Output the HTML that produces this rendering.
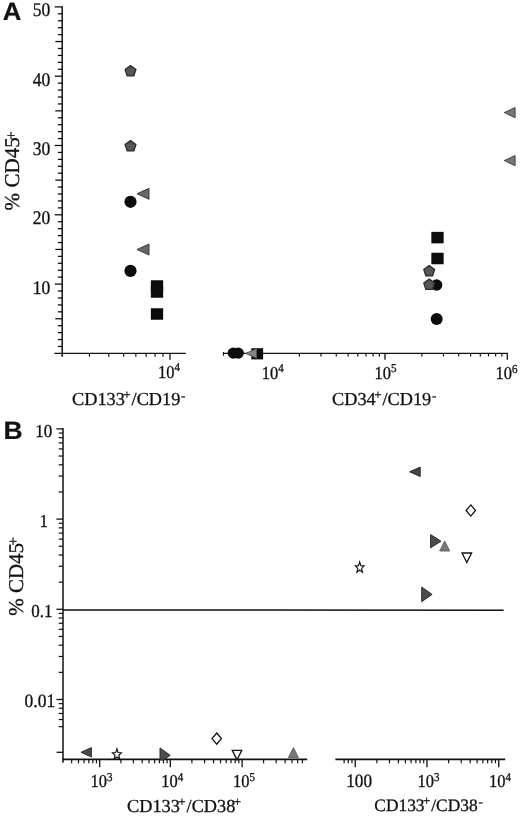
<!DOCTYPE html>
<html lang="en"><head><meta charset="utf-8"><title>Figure</title>
<style>
html,body{margin:0;padding:0;background:#fff}
body{width:520px;height:817px;overflow:hidden}
svg{display:block;will-change:transform;filter:grayscale(1)}
text{white-space:pre;text-rendering:geometricPrecision}
</style></head><body>
<svg width="520" height="817" viewBox="0 0 520 817">
<rect width="520" height="817" fill="#fff"/>
<line x1="62.20" y1="6.20" x2="62.20" y2="356.80" stroke="#111" stroke-width="1.5"/>
<line x1="57.90" y1="346.47" x2="62.20" y2="346.47" stroke="#111" stroke-width="1.3"/>
<line x1="57.90" y1="339.54" x2="62.20" y2="339.54" stroke="#111" stroke-width="1.3"/>
<line x1="57.90" y1="332.61" x2="62.20" y2="332.61" stroke="#111" stroke-width="1.3"/>
<line x1="57.90" y1="325.68" x2="62.20" y2="325.68" stroke="#111" stroke-width="1.3"/>
<line x1="55.30" y1="318.75" x2="62.20" y2="318.75" stroke="#111" stroke-width="1.3"/>
<line x1="57.90" y1="311.82" x2="62.20" y2="311.82" stroke="#111" stroke-width="1.3"/>
<line x1="57.90" y1="304.89" x2="62.20" y2="304.89" stroke="#111" stroke-width="1.3"/>
<line x1="57.90" y1="297.96" x2="62.20" y2="297.96" stroke="#111" stroke-width="1.3"/>
<line x1="57.90" y1="291.03" x2="62.20" y2="291.03" stroke="#111" stroke-width="1.3"/>
<line x1="54.70" y1="284.10" x2="62.20" y2="284.10" stroke="#111" stroke-width="1.3"/>
<line x1="57.90" y1="277.17" x2="62.20" y2="277.17" stroke="#111" stroke-width="1.3"/>
<line x1="57.90" y1="270.24" x2="62.20" y2="270.24" stroke="#111" stroke-width="1.3"/>
<line x1="57.90" y1="263.31" x2="62.20" y2="263.31" stroke="#111" stroke-width="1.3"/>
<line x1="57.90" y1="256.38" x2="62.20" y2="256.38" stroke="#111" stroke-width="1.3"/>
<line x1="55.30" y1="249.45" x2="62.20" y2="249.45" stroke="#111" stroke-width="1.3"/>
<line x1="57.90" y1="242.52" x2="62.20" y2="242.52" stroke="#111" stroke-width="1.3"/>
<line x1="57.90" y1="235.59" x2="62.20" y2="235.59" stroke="#111" stroke-width="1.3"/>
<line x1="57.90" y1="228.66" x2="62.20" y2="228.66" stroke="#111" stroke-width="1.3"/>
<line x1="57.90" y1="221.73" x2="62.20" y2="221.73" stroke="#111" stroke-width="1.3"/>
<line x1="54.70" y1="214.80" x2="62.20" y2="214.80" stroke="#111" stroke-width="1.3"/>
<line x1="57.90" y1="207.87" x2="62.20" y2="207.87" stroke="#111" stroke-width="1.3"/>
<line x1="57.90" y1="200.94" x2="62.20" y2="200.94" stroke="#111" stroke-width="1.3"/>
<line x1="57.90" y1="194.01" x2="62.20" y2="194.01" stroke="#111" stroke-width="1.3"/>
<line x1="57.90" y1="187.08" x2="62.20" y2="187.08" stroke="#111" stroke-width="1.3"/>
<line x1="55.30" y1="180.15" x2="62.20" y2="180.15" stroke="#111" stroke-width="1.3"/>
<line x1="57.90" y1="173.22" x2="62.20" y2="173.22" stroke="#111" stroke-width="1.3"/>
<line x1="57.90" y1="166.29" x2="62.20" y2="166.29" stroke="#111" stroke-width="1.3"/>
<line x1="57.90" y1="159.36" x2="62.20" y2="159.36" stroke="#111" stroke-width="1.3"/>
<line x1="57.90" y1="152.43" x2="62.20" y2="152.43" stroke="#111" stroke-width="1.3"/>
<line x1="54.70" y1="145.50" x2="62.20" y2="145.50" stroke="#111" stroke-width="1.3"/>
<line x1="57.90" y1="138.57" x2="62.20" y2="138.57" stroke="#111" stroke-width="1.3"/>
<line x1="57.90" y1="131.64" x2="62.20" y2="131.64" stroke="#111" stroke-width="1.3"/>
<line x1="57.90" y1="124.71" x2="62.20" y2="124.71" stroke="#111" stroke-width="1.3"/>
<line x1="57.90" y1="117.78" x2="62.20" y2="117.78" stroke="#111" stroke-width="1.3"/>
<line x1="55.30" y1="110.85" x2="62.20" y2="110.85" stroke="#111" stroke-width="1.3"/>
<line x1="57.90" y1="103.92" x2="62.20" y2="103.92" stroke="#111" stroke-width="1.3"/>
<line x1="57.90" y1="96.99" x2="62.20" y2="96.99" stroke="#111" stroke-width="1.3"/>
<line x1="57.90" y1="90.06" x2="62.20" y2="90.06" stroke="#111" stroke-width="1.3"/>
<line x1="57.90" y1="83.13" x2="62.20" y2="83.13" stroke="#111" stroke-width="1.3"/>
<line x1="54.70" y1="76.20" x2="62.20" y2="76.20" stroke="#111" stroke-width="1.3"/>
<line x1="57.90" y1="69.27" x2="62.20" y2="69.27" stroke="#111" stroke-width="1.3"/>
<line x1="57.90" y1="62.34" x2="62.20" y2="62.34" stroke="#111" stroke-width="1.3"/>
<line x1="57.90" y1="55.41" x2="62.20" y2="55.41" stroke="#111" stroke-width="1.3"/>
<line x1="57.90" y1="48.48" x2="62.20" y2="48.48" stroke="#111" stroke-width="1.3"/>
<line x1="55.30" y1="41.55" x2="62.20" y2="41.55" stroke="#111" stroke-width="1.3"/>
<line x1="57.90" y1="34.62" x2="62.20" y2="34.62" stroke="#111" stroke-width="1.3"/>
<line x1="57.90" y1="27.69" x2="62.20" y2="27.69" stroke="#111" stroke-width="1.3"/>
<line x1="57.90" y1="20.76" x2="62.20" y2="20.76" stroke="#111" stroke-width="1.3"/>
<line x1="57.90" y1="13.83" x2="62.20" y2="13.83" stroke="#111" stroke-width="1.3"/>
<line x1="54.70" y1="6.90" x2="62.20" y2="6.90" stroke="#111" stroke-width="1.3"/>
<line x1="54.40" y1="353.30" x2="185.80" y2="353.30" stroke="#111" stroke-width="1.3"/>
<line x1="89.48" y1="353.30" x2="89.48" y2="356.70" stroke="#111" stroke-width="1.2"/>
<line x1="108.72" y1="353.30" x2="108.72" y2="356.70" stroke="#111" stroke-width="1.2"/>
<line x1="123.64" y1="353.30" x2="123.64" y2="356.70" stroke="#111" stroke-width="1.2"/>
<line x1="135.84" y1="353.30" x2="135.84" y2="356.70" stroke="#111" stroke-width="1.2"/>
<line x1="146.15" y1="353.30" x2="146.15" y2="356.70" stroke="#111" stroke-width="1.2"/>
<line x1="155.08" y1="353.30" x2="155.08" y2="356.70" stroke="#111" stroke-width="1.2"/>
<line x1="162.95" y1="353.30" x2="162.95" y2="356.70" stroke="#111" stroke-width="1.2"/>
<line x1="170.00" y1="353.30" x2="170.00" y2="359.70" stroke="#111" stroke-width="1.3"/>
<line x1="223.00" y1="353.30" x2="507.90" y2="353.30" stroke="#111" stroke-width="1.3"/>
<line x1="223.40" y1="352.00" x2="223.40" y2="355.80" stroke="#111" stroke-width="1.1"/>
<line x1="299.38" y1="353.30" x2="299.38" y2="356.40" stroke="#111" stroke-width="1.2"/>
<line x1="320.95" y1="353.30" x2="320.95" y2="356.40" stroke="#111" stroke-width="1.2"/>
<line x1="336.25" y1="353.30" x2="336.25" y2="356.40" stroke="#111" stroke-width="1.2"/>
<line x1="348.12" y1="353.30" x2="348.12" y2="356.40" stroke="#111" stroke-width="1.2"/>
<line x1="357.82" y1="353.30" x2="357.82" y2="356.40" stroke="#111" stroke-width="1.2"/>
<line x1="366.02" y1="353.30" x2="366.02" y2="356.40" stroke="#111" stroke-width="1.2"/>
<line x1="373.13" y1="353.30" x2="373.13" y2="356.40" stroke="#111" stroke-width="1.2"/>
<line x1="379.39" y1="353.30" x2="379.39" y2="356.40" stroke="#111" stroke-width="1.2"/>
<line x1="421.88" y1="353.30" x2="421.88" y2="356.40" stroke="#111" stroke-width="1.2"/>
<line x1="443.45" y1="353.30" x2="443.45" y2="356.40" stroke="#111" stroke-width="1.2"/>
<line x1="458.75" y1="353.30" x2="458.75" y2="356.40" stroke="#111" stroke-width="1.2"/>
<line x1="470.62" y1="353.30" x2="470.62" y2="356.40" stroke="#111" stroke-width="1.2"/>
<line x1="480.32" y1="353.30" x2="480.32" y2="356.40" stroke="#111" stroke-width="1.2"/>
<line x1="488.52" y1="353.30" x2="488.52" y2="356.40" stroke="#111" stroke-width="1.2"/>
<line x1="495.63" y1="353.30" x2="495.63" y2="356.40" stroke="#111" stroke-width="1.2"/>
<line x1="501.89" y1="353.30" x2="501.89" y2="356.40" stroke="#111" stroke-width="1.2"/>
<line x1="385.00" y1="353.30" x2="385.00" y2="359.70" stroke="#111" stroke-width="1.3"/>
<line x1="507.30" y1="353.30" x2="507.30" y2="359.70" stroke="#111" stroke-width="1.3"/>
<text transform="translate(50.20,16.20) scale(1,1.1)" font-family='"Liberation Serif", serif' font-size="17.5" font-weight="normal" text-anchor="end" fill="#111" stroke="#111" stroke-width="0.3">50</text>
<text transform="translate(50.20,85.50) scale(1,1.1)" font-family='"Liberation Serif", serif' font-size="17.5" font-weight="normal" text-anchor="end" fill="#111" stroke="#111" stroke-width="0.3">40</text>
<text transform="translate(50.20,155.00) scale(1,1.1)" font-family='"Liberation Serif", serif' font-size="17.5" font-weight="normal" text-anchor="end" fill="#111" stroke="#111" stroke-width="0.3">30</text>
<text transform="translate(50.20,224.30) scale(1,1.1)" font-family='"Liberation Serif", serif' font-size="17.5" font-weight="normal" text-anchor="end" fill="#111" stroke="#111" stroke-width="0.3">20</text>
<text transform="translate(50.20,293.70) scale(1,1.1)" font-family='"Liberation Serif", serif' font-size="17.5" font-weight="normal" text-anchor="end" fill="#111" stroke="#111" stroke-width="0.3">10</text>
<text transform="translate(158.00,378.00) scale(1,1.1)" font-family='"Liberation Serif", serif' font-size="16.5" font-weight="normal" text-anchor="start" fill="#111" stroke="#111" stroke-width="0.3">10<tspan font-size="11" dy="-6.0" dx="0">4</tspan></text>
<text transform="translate(261.80,379.00) scale(1,1.1)" font-family='"Liberation Serif", serif' font-size="16.5" font-weight="normal" text-anchor="start" fill="#111" stroke="#111" stroke-width="0.3">10<tspan font-size="11" dy="-6.0" dx="0">4</tspan></text>
<text transform="translate(374.40,378.80) scale(1,1.1)" font-family='"Liberation Serif", serif' font-size="16.5" font-weight="normal" text-anchor="start" fill="#111" stroke="#111" stroke-width="0.3">10<tspan font-size="11" dy="-6.0" dx="0">5</tspan></text>
<text transform="translate(495.60,379.10) scale(1,1.1)" font-family='"Liberation Serif", serif' font-size="16.5" font-weight="normal" text-anchor="start" fill="#111" stroke="#111" stroke-width="0.3">10<tspan font-size="11" dy="-6.0" dx="0">6</tspan></text>
<text transform="translate(72.00,404.60) scale(1,1.0)" font-family='"Liberation Serif", serif' font-size="18.3" font-weight="normal" text-anchor="start" fill="#111" stroke="#111" stroke-width="0.3">CD133<tspan font-size="13" dy="-6" dx="-1.5">+</tspan><tspan dy="6" dx="0.9">/CD19</tspan><tspan font-size="13" dy="-5" dx="0.7">-</tspan></text>
<text transform="translate(332.00,404.90) scale(1,1.0)" font-family='"Liberation Serif", serif' font-size="18.3" font-weight="normal" text-anchor="start" fill="#111" stroke="#111" stroke-width="0.3">CD34<tspan font-size="13" dy="-6" dx="-1.5">+</tspan><tspan dy="6" dx="0.9">/CD19</tspan><tspan font-size="13" dy="-5" dx="0.7">-</tspan></text>
<text transform="translate(19.2,210.4) rotate(-90)" font-family='"Liberation Serif", serif' font-size="21.1" fill="#111" stroke="#111" stroke-width="0.3">% CD45<tspan font-size="15" dy="-3.0" dx="-2.7">+</tspan></text>
<text transform="translate(2.70,20.30) scale(1.03,1.0)" font-family='"Liberation Sans", sans-serif' font-size="25" font-weight="bold" text-anchor="start" fill="#111" stroke="#111" stroke-width="0.2">A</text>
<polygon points="130.50,65.60 135.92,69.54 133.85,75.91 127.15,75.91 125.08,69.54" fill="#565656" stroke="#2c2c2c" stroke-width="1.3" stroke-linejoin="miter"/>
<polygon points="130.50,140.60 135.92,144.54 133.85,150.91 127.15,150.91 125.08,144.54" fill="#565656" stroke="#2c2c2c" stroke-width="1.3" stroke-linejoin="miter"/>
<circle cx="130.5" cy="201.8" r="6.1" fill="#0c0c0c"/>
<circle cx="130.5" cy="270.9" r="6.1" fill="#0c0c0c"/>
<polygon points="137.00,193.80 149.00,188.30 149.00,199.30" fill="#666" stroke="#3c3c3c" stroke-width="1" stroke-linejoin="miter"/>
<polygon points="137.00,249.50 149.00,244.00 149.00,255.00" fill="#666" stroke="#3c3c3c" stroke-width="1" stroke-linejoin="miter"/>
<rect x="150.85" y="280.25" width="12.3" height="11.5" fill="#0c0c0c"/>
<rect x="150.85" y="286.25" width="12.3" height="11.5" fill="#0c0c0c"/>
<rect x="150.85" y="308.25" width="12.3" height="11.5" fill="#0c0c0c"/>
<circle cx="233.2" cy="353.1" r="5.6" fill="#0c0c0c"/>
<circle cx="238.3" cy="353.1" r="5.6" fill="#0c0c0c"/>
<rect x="251.30" y="348.20" width="11.8" height="11.2" fill="#0c0c0c"/>
<polygon points="245.60,353.40 256.60,348.70 256.60,358.10" fill="#858585" stroke="#555" stroke-width="1" stroke-linejoin="miter"/>
<rect x="431.35" y="231.85" width="12.3" height="11.5" fill="#0c0c0c"/>
<rect x="431.35" y="252.75" width="12.3" height="11.5" fill="#0c0c0c"/>
<circle cx="436.6" cy="285" r="5.8" fill="#0c0c0c"/>
<circle cx="436.7" cy="319.1" r="6.0" fill="#0c0c0c"/>
<polygon points="429.20,265.60 434.62,269.54 432.55,275.91 425.85,275.91 423.78,269.54" fill="#565656" stroke="#2c2c2c" stroke-width="1.3" stroke-linejoin="miter"/>
<polygon points="429.20,279.10 434.62,283.04 432.55,289.41 425.85,289.41 423.78,283.04" fill="#565656" stroke="#2c2c2c" stroke-width="1.3" stroke-linejoin="miter"/>
<polygon points="504.20,112.60 515.10,107.50 515.10,117.70" fill="#767676" stroke="#484848" stroke-width="1" stroke-linejoin="miter"/>
<polygon points="504.20,160.60 515.10,155.50 515.10,165.70" fill="#767676" stroke="#484848" stroke-width="1" stroke-linejoin="miter"/>
<line x1="63.00" y1="428.00" x2="63.00" y2="762.80" stroke="#111" stroke-width="1.5"/>
<line x1="56.40" y1="428.90" x2="63.00" y2="428.90" stroke="#111" stroke-width="1.3"/>
<line x1="56.40" y1="519.10" x2="63.00" y2="519.10" stroke="#111" stroke-width="1.3"/>
<line x1="56.40" y1="609.30" x2="63.00" y2="609.30" stroke="#111" stroke-width="1.3"/>
<line x1="56.40" y1="699.50" x2="63.00" y2="699.50" stroke="#111" stroke-width="1.3"/>
<line x1="58.70" y1="491.95" x2="63.00" y2="491.95" stroke="#111" stroke-width="1.2"/>
<line x1="58.70" y1="476.06" x2="63.00" y2="476.06" stroke="#111" stroke-width="1.2"/>
<line x1="58.70" y1="464.79" x2="63.00" y2="464.79" stroke="#111" stroke-width="1.2"/>
<line x1="58.70" y1="456.05" x2="63.00" y2="456.05" stroke="#111" stroke-width="1.2"/>
<line x1="58.70" y1="448.91" x2="63.00" y2="448.91" stroke="#111" stroke-width="1.2"/>
<line x1="58.70" y1="442.87" x2="63.00" y2="442.87" stroke="#111" stroke-width="1.2"/>
<line x1="58.70" y1="437.64" x2="63.00" y2="437.64" stroke="#111" stroke-width="1.2"/>
<line x1="58.70" y1="433.03" x2="63.00" y2="433.03" stroke="#111" stroke-width="1.2"/>
<line x1="58.70" y1="582.15" x2="63.00" y2="582.15" stroke="#111" stroke-width="1.2"/>
<line x1="58.70" y1="566.26" x2="63.00" y2="566.26" stroke="#111" stroke-width="1.2"/>
<line x1="58.70" y1="554.99" x2="63.00" y2="554.99" stroke="#111" stroke-width="1.2"/>
<line x1="58.70" y1="546.25" x2="63.00" y2="546.25" stroke="#111" stroke-width="1.2"/>
<line x1="58.70" y1="539.11" x2="63.00" y2="539.11" stroke="#111" stroke-width="1.2"/>
<line x1="58.70" y1="533.07" x2="63.00" y2="533.07" stroke="#111" stroke-width="1.2"/>
<line x1="58.70" y1="527.84" x2="63.00" y2="527.84" stroke="#111" stroke-width="1.2"/>
<line x1="58.70" y1="523.23" x2="63.00" y2="523.23" stroke="#111" stroke-width="1.2"/>
<line x1="58.70" y1="672.35" x2="63.00" y2="672.35" stroke="#111" stroke-width="1.2"/>
<line x1="58.70" y1="656.46" x2="63.00" y2="656.46" stroke="#111" stroke-width="1.2"/>
<line x1="58.70" y1="645.19" x2="63.00" y2="645.19" stroke="#111" stroke-width="1.2"/>
<line x1="58.70" y1="636.45" x2="63.00" y2="636.45" stroke="#111" stroke-width="1.2"/>
<line x1="58.70" y1="629.31" x2="63.00" y2="629.31" stroke="#111" stroke-width="1.2"/>
<line x1="58.70" y1="623.27" x2="63.00" y2="623.27" stroke="#111" stroke-width="1.2"/>
<line x1="58.70" y1="618.04" x2="63.00" y2="618.04" stroke="#111" stroke-width="1.2"/>
<line x1="58.70" y1="613.43" x2="63.00" y2="613.43" stroke="#111" stroke-width="1.2"/>
<line x1="58.70" y1="726.65" x2="63.00" y2="726.65" stroke="#111" stroke-width="1.2"/>
<line x1="58.70" y1="719.51" x2="63.00" y2="719.51" stroke="#111" stroke-width="1.2"/>
<line x1="58.70" y1="713.47" x2="63.00" y2="713.47" stroke="#111" stroke-width="1.2"/>
<line x1="58.70" y1="708.24" x2="63.00" y2="708.24" stroke="#111" stroke-width="1.2"/>
<line x1="58.70" y1="703.63" x2="63.00" y2="703.63" stroke="#111" stroke-width="1.2"/>
<line x1="56.60" y1="752.30" x2="63.00" y2="752.30" stroke="#111" stroke-width="1.3"/>
<line x1="62.30" y1="759.40" x2="307.20" y2="759.40" stroke="#111" stroke-width="1.6"/>
<line x1="71.65" y1="759.40" x2="71.65" y2="763.30" stroke="#111" stroke-width="1.2"/>
<line x1="78.48" y1="759.40" x2="78.48" y2="763.30" stroke="#111" stroke-width="1.2"/>
<line x1="84.06" y1="759.40" x2="84.06" y2="763.30" stroke="#111" stroke-width="1.2"/>
<line x1="88.78" y1="759.40" x2="88.78" y2="763.30" stroke="#111" stroke-width="1.2"/>
<line x1="92.87" y1="759.40" x2="92.87" y2="763.30" stroke="#111" stroke-width="1.2"/>
<line x1="96.47" y1="759.40" x2="96.47" y2="763.30" stroke="#111" stroke-width="1.2"/>
<line x1="120.95" y1="759.40" x2="120.95" y2="763.30" stroke="#111" stroke-width="1.2"/>
<line x1="133.38" y1="759.40" x2="133.38" y2="763.30" stroke="#111" stroke-width="1.2"/>
<line x1="142.21" y1="759.40" x2="142.21" y2="763.30" stroke="#111" stroke-width="1.2"/>
<line x1="149.05" y1="759.40" x2="149.05" y2="763.30" stroke="#111" stroke-width="1.2"/>
<line x1="154.64" y1="759.40" x2="154.64" y2="763.30" stroke="#111" stroke-width="1.2"/>
<line x1="159.36" y1="759.40" x2="159.36" y2="763.30" stroke="#111" stroke-width="1.2"/>
<line x1="163.46" y1="759.40" x2="163.46" y2="763.30" stroke="#111" stroke-width="1.2"/>
<line x1="167.07" y1="759.40" x2="167.07" y2="763.30" stroke="#111" stroke-width="1.2"/>
<line x1="191.91" y1="759.40" x2="191.91" y2="763.30" stroke="#111" stroke-width="1.2"/>
<line x1="204.56" y1="759.40" x2="204.56" y2="763.30" stroke="#111" stroke-width="1.2"/>
<line x1="213.53" y1="759.40" x2="213.53" y2="763.30" stroke="#111" stroke-width="1.2"/>
<line x1="220.49" y1="759.40" x2="220.49" y2="763.30" stroke="#111" stroke-width="1.2"/>
<line x1="226.17" y1="759.40" x2="226.17" y2="763.30" stroke="#111" stroke-width="1.2"/>
<line x1="230.98" y1="759.40" x2="230.98" y2="763.30" stroke="#111" stroke-width="1.2"/>
<line x1="235.14" y1="759.40" x2="235.14" y2="763.30" stroke="#111" stroke-width="1.2"/>
<line x1="238.81" y1="759.40" x2="238.81" y2="763.30" stroke="#111" stroke-width="1.2"/>
<line x1="263.59" y1="759.40" x2="263.59" y2="763.30" stroke="#111" stroke-width="1.2"/>
<line x1="276.17" y1="759.40" x2="276.17" y2="763.30" stroke="#111" stroke-width="1.2"/>
<line x1="285.09" y1="759.40" x2="285.09" y2="763.30" stroke="#111" stroke-width="1.2"/>
<line x1="292.01" y1="759.40" x2="292.01" y2="763.30" stroke="#111" stroke-width="1.2"/>
<line x1="297.66" y1="759.40" x2="297.66" y2="763.30" stroke="#111" stroke-width="1.2"/>
<line x1="302.44" y1="759.40" x2="302.44" y2="763.30" stroke="#111" stroke-width="1.2"/>
<line x1="99.70" y1="759.40" x2="99.70" y2="767.20" stroke="#111" stroke-width="1.3"/>
<line x1="170.30" y1="759.40" x2="170.30" y2="767.20" stroke="#111" stroke-width="1.3"/>
<line x1="242.10" y1="759.40" x2="242.10" y2="767.20" stroke="#111" stroke-width="1.3"/>
<line x1="335.40" y1="759.40" x2="505.20" y2="759.40" stroke="#111" stroke-width="1.6"/>
<line x1="344.14" y1="759.40" x2="344.14" y2="763.30" stroke="#111" stroke-width="1.2"/>
<line x1="348.30" y1="759.40" x2="348.30" y2="763.30" stroke="#111" stroke-width="1.2"/>
<line x1="351.97" y1="759.40" x2="351.97" y2="763.30" stroke="#111" stroke-width="1.2"/>
<line x1="376.85" y1="759.40" x2="376.85" y2="763.30" stroke="#111" stroke-width="1.2"/>
<line x1="389.48" y1="759.40" x2="389.48" y2="763.30" stroke="#111" stroke-width="1.2"/>
<line x1="398.45" y1="759.40" x2="398.45" y2="763.30" stroke="#111" stroke-width="1.2"/>
<line x1="405.40" y1="759.40" x2="405.40" y2="763.30" stroke="#111" stroke-width="1.2"/>
<line x1="411.08" y1="759.40" x2="411.08" y2="763.30" stroke="#111" stroke-width="1.2"/>
<line x1="415.89" y1="759.40" x2="415.89" y2="763.30" stroke="#111" stroke-width="1.2"/>
<line x1="420.05" y1="759.40" x2="420.05" y2="763.30" stroke="#111" stroke-width="1.2"/>
<line x1="423.72" y1="759.40" x2="423.72" y2="763.30" stroke="#111" stroke-width="1.2"/>
<line x1="448.60" y1="759.40" x2="448.60" y2="763.30" stroke="#111" stroke-width="1.2"/>
<line x1="461.23" y1="759.40" x2="461.23" y2="763.30" stroke="#111" stroke-width="1.2"/>
<line x1="470.20" y1="759.40" x2="470.20" y2="763.30" stroke="#111" stroke-width="1.2"/>
<line x1="477.15" y1="759.40" x2="477.15" y2="763.30" stroke="#111" stroke-width="1.2"/>
<line x1="482.83" y1="759.40" x2="482.83" y2="763.30" stroke="#111" stroke-width="1.2"/>
<line x1="487.64" y1="759.40" x2="487.64" y2="763.30" stroke="#111" stroke-width="1.2"/>
<line x1="491.80" y1="759.40" x2="491.80" y2="763.30" stroke="#111" stroke-width="1.2"/>
<line x1="495.47" y1="759.40" x2="495.47" y2="763.30" stroke="#111" stroke-width="1.2"/>
<line x1="355.25" y1="759.40" x2="355.25" y2="767.20" stroke="#111" stroke-width="1.3"/>
<line x1="427.00" y1="759.40" x2="427.00" y2="767.20" stroke="#111" stroke-width="1.3"/>
<line x1="498.75" y1="759.40" x2="498.75" y2="767.20" stroke="#111" stroke-width="1.3"/>
<line x1="63.00" y1="609.90" x2="503.60" y2="610.30" stroke="#111" stroke-width="1.45"/>
<text transform="translate(52.20,437.00) scale(1,1.08)" font-family='"Liberation Serif", serif' font-size="17" font-weight="normal" text-anchor="end" fill="#111" stroke="#111" stroke-width="0.3">10</text>
<text transform="translate(48.00,526.80) scale(1,1.08)" font-family='"Liberation Serif", serif' font-size="17" font-weight="normal" text-anchor="end" fill="#111" stroke="#111" stroke-width="0.3">1</text>
<text transform="translate(52.40,616.60) scale(1,1.08)" font-family='"Liberation Serif", serif' font-size="17" font-weight="normal" text-anchor="end" fill="#111" stroke="#111" stroke-width="0.3">0.1</text>
<text transform="translate(55.20,706.60) scale(1,1.08)" font-family='"Liberation Serif", serif' font-size="17.5" font-weight="normal" text-anchor="end" fill="#111" stroke="#111" stroke-width="0.3">0.01</text>
<text transform="translate(90.40,787.20) scale(1,1.1)" font-family='"Liberation Serif", serif' font-size="16.5" font-weight="normal" text-anchor="start" fill="#111" stroke="#111" stroke-width="0.3">10<tspan font-size="11" dy="-6.0" dx="0">3</tspan></text>
<text transform="translate(161.20,787.20) scale(1,1.1)" font-family='"Liberation Serif", serif' font-size="16.5" font-weight="normal" text-anchor="start" fill="#111" stroke="#111" stroke-width="0.3">10<tspan font-size="11" dy="-6.0" dx="0">4</tspan></text>
<text transform="translate(233.00,787.20) scale(1,1.1)" font-family='"Liberation Serif", serif' font-size="16.5" font-weight="normal" text-anchor="start" fill="#111" stroke="#111" stroke-width="0.3">10<tspan font-size="11" dy="-6.0" dx="0">5</tspan></text>
<text transform="translate(346.20,787.40) scale(1,1.1)" font-family='"Liberation Serif", serif' font-size="17.2" font-weight="normal" text-anchor="start" fill="#111" stroke="#111" stroke-width="0.3">100</text>
<text transform="translate(417.60,787.20) scale(1,1.1)" font-family='"Liberation Serif", serif' font-size="16.5" font-weight="normal" text-anchor="start" fill="#111" stroke="#111" stroke-width="0.3">10<tspan font-size="11" dy="-6.0" dx="0">3</tspan></text>
<text transform="translate(489.00,787.20) scale(1,1.1)" font-family='"Liberation Serif", serif' font-size="16.5" font-weight="normal" text-anchor="start" fill="#111" stroke="#111" stroke-width="0.3">10<tspan font-size="11" dy="-6.0" dx="0">4</tspan></text>
<text transform="translate(127.00,812.00) scale(1,1.0)" font-family='"Liberation Serif", serif' font-size="18.3" font-weight="normal" text-anchor="start" fill="#111" stroke="#111" stroke-width="0.3">CD133<tspan font-size="13" dy="-6" dx="-1.5">+</tspan><tspan dy="6" dx="0.9">/CD38</tspan><tspan font-size="13" dy="-6" dx="-1.5">+</tspan></text>
<text transform="translate(374.30,811.40) scale(1,1.0)" font-family='"Liberation Serif", serif' font-size="17.4" font-weight="normal" text-anchor="start" fill="#111" stroke="#111" stroke-width="0.3">CD133<tspan font-size="13" dy="-6" dx="-1.5">+</tspan><tspan dy="6" dx="0.9">/CD38</tspan><tspan font-size="13" dy="-5" dx="0.7">-</tspan></text>
<text transform="translate(22.8,615.8) rotate(-90)" font-family='"Liberation Serif", serif' font-size="21.0" fill="#111" stroke="#111" stroke-width="0.3">% CD45<tspan font-size="15" dy="-4.4" dx="-2.7">+</tspan></text>
<text transform="translate(3.60,439.30) scale(1.06,1.0)" font-family='"Liberation Sans", sans-serif' font-size="25" font-weight="bold" text-anchor="start" fill="#111" stroke="#111" stroke-width="0.2">B</text>
<polygon points="81.00,752.30 91.40,747.60 91.40,757.00" fill="#4a4a4a" stroke="#303030" stroke-width="1" stroke-linejoin="miter"/>
<polygon points="116.90,748.80 118.06,752.56 121.37,752.74 118.78,755.24 119.66,759.11 116.90,756.89 114.14,759.11 115.02,755.24 112.43,752.74 115.74,752.56" fill="#fff" stroke="#111" stroke-width="1.15" stroke-linejoin="miter"/>
<polygon points="160.00,748.00 170.20,755.30 163.60,760.00 160.00,760.00" fill="#4c4c4c" stroke="#2c2c2c" stroke-width="1" stroke-linejoin="miter"/>
<polygon points="216.70,733.00 221.40,738.60 216.70,744.20 212.00,738.60" fill="#fff" stroke="#111" stroke-width="1.3" stroke-linejoin="miter"/>
<polygon points="237.00,759.90 232.25,750.40 241.75,750.40" fill="#fff" stroke="#111" stroke-width="1.3" stroke-linejoin="miter"/>
<polygon points="293.40,747.60 288.40,757.60 298.40,757.60" fill="#777" stroke="#666" stroke-width="1" stroke-linejoin="miter"/>
<polygon points="409.60,471.80 420.20,467.10 420.20,476.50" fill="#444" stroke="#2a2a2a" stroke-width="1" stroke-linejoin="miter"/>
<polygon points="470.80,504.90 475.50,510.50 470.80,516.10 466.10,510.50" fill="#fff" stroke="#111" stroke-width="1.3" stroke-linejoin="miter"/>
<polygon points="441.00,541.20 430.60,534.60 430.60,547.80" fill="#4c4c4c" stroke="#2c2c2c" stroke-width="1" stroke-linejoin="miter"/>
<polygon points="444.70,541.00 439.70,551.00 449.70,551.00" fill="#777" stroke="#666" stroke-width="1" stroke-linejoin="miter"/>
<polygon points="466.80,562.50 462.05,553.00 471.55,553.00" fill="#fff" stroke="#111" stroke-width="1.3" stroke-linejoin="miter"/>
<polygon points="359.70,561.90 360.86,565.66 364.17,565.84 361.58,568.34 362.46,572.21 359.70,569.99 356.94,572.21 357.82,568.34 355.23,565.84 358.54,565.66" fill="#fff" stroke="#111" stroke-width="1.15" stroke-linejoin="miter"/>
<polygon points="432.10,594.40 421.70,587.10 421.70,601.70" fill="#4c4c4c" stroke="#2c2c2c" stroke-width="1" stroke-linejoin="miter"/>
</svg>
</body></html>
